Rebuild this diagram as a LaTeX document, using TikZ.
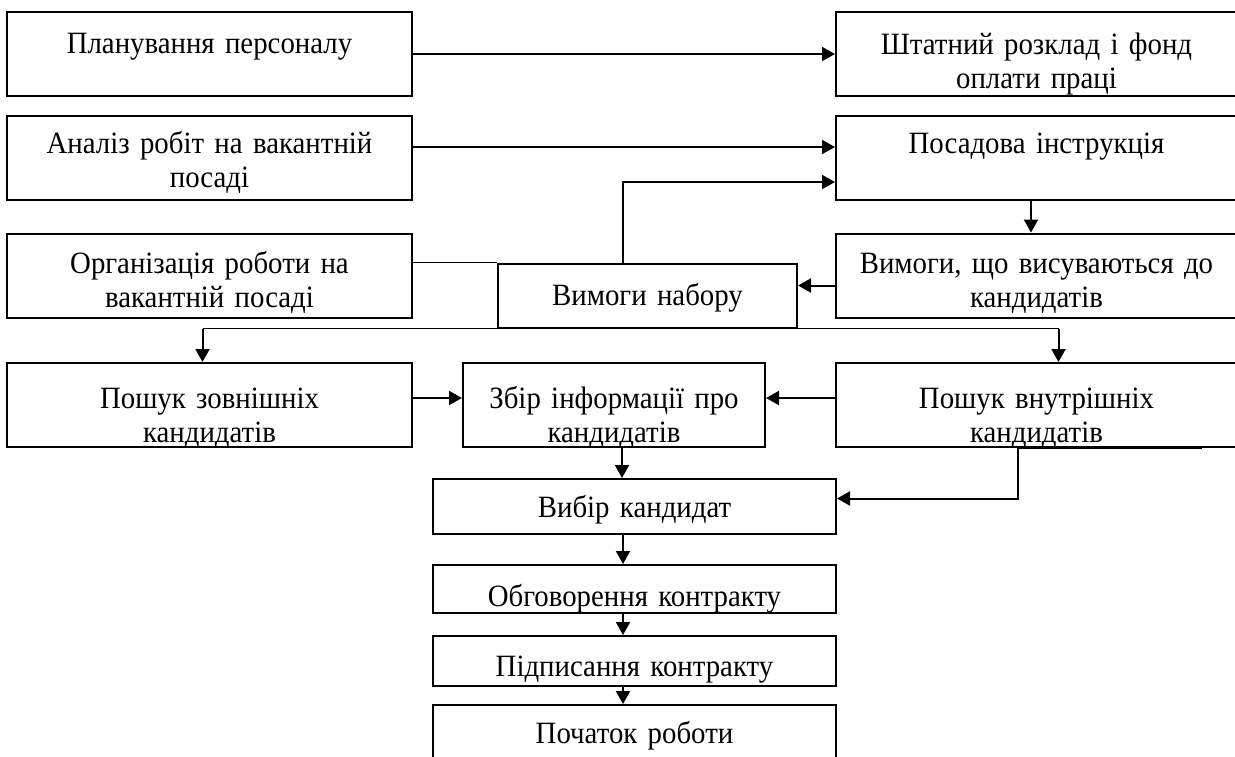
\documentclass[tikz,border=0pt]{standalone}
\usepackage{fontspec}
\setmainfont{Liberation Serif}[FakeStretch=0.93]
\usetikzlibrary{arrows.meta, positioning, calc}

\begin{document}
\begin{tikzpicture}[x=1pt, y=-1pt, ->, >={Triangle[length=13pt,width=14pt]}, line width=2pt,
  every node/.style = {shape=rectangle, draw, inner sep=0pt, align=center, font=\fontsize{31}{34}\selectfont},
  sidebox/.style = {minimum width=405, text width=390, minimum height=84},
  rightbox/.style = {minimum width=401, text width=390, minimum height=84},
  stagebox/.style = {minimum width=403, text width=390},
  lift/.style = {text height=0pt, text depth=#1},
  sink/.style = {text height=#1, text depth=0pt}]
  \useasboundingbox (0,0) rectangle (1235,756);
  \node[sidebox, lift=2pt] (plan) at (209.5,54) {Планування персоналу};
  \node[sidebox, lift=10pt] (analiz) at (209.5,158) {Аналіз робіт на вакантній\\посаді};
  \node[sidebox, lift=5pt] (org) at (209.5,275.5) {Організація роботи на\\вакантній посаді};
  \node[sidebox, sink=6pt] (zovn) at (209.5,405) {Пошук зовнішніх\\кандидатів};
  \node[rightbox, lift=0pt] (shtat) at (1036.5,54) {Штатний розклад і фонд\\оплати праці};
  \node[rightbox, lift=10pt] (instr) at (1036.5,158) {Посадова інструкція};
  \node[rightbox, lift=5pt] (vymogy) at (1036.5,275.5) {Вимоги, що висуваються до\\кандидатів};
  \node[rightbox, sink=6pt] (vnutr) at (1036.5,405) {Пошук внутрішніх\\кандидатів};
  \node[minimum width=299, text width=290, minimum height=64, sink=19pt] (nabir) at (647.5,295.5) {Вимоги набору};
  \node[minimum width=302, text width=290, minimum height=84, sink=6pt] (zbir) at (614,405) {Збір інформації про\\кандидатів};
  \node[stagebox, minimum height=55, sink=21pt] (vybir) at (634.5,506.5) {Вибір кандидат};
  \node[stagebox, minimum height=48, sink=34pt] (obh) at (634.5,589) {Обговорення контракту};
  \node[stagebox, minimum height=50, sink=30pt] (pidp) at (634.5,661) {Підписання контракту};
  \node[stagebox, minimum height=85, lift=9pt] (pochat) at (634.5,747.5) {Початок роботи};
  % connectors
  \draw (plan) -- (shtat);
  \draw ([yshift=11pt]analiz.east) -- ([yshift=11pt]instr.west);
  \draw ([xshift=-24.5pt]nabir.north) |- ([yshift=-24pt]instr.west);
  \draw ([xshift=-5.5pt]instr.south) -- ([xshift=-5.5pt]vymogy.north);
  \draw ([yshift=-10pt]vymogy.west) -- ([yshift=-10pt]vymogy.west -| nabir.east);
  \draw[-, line width=1.3pt] (org.east |- nabir.north) -- (nabir.north west);
  \draw[-, line width=1.3pt] ([xshift=-7pt]zovn.north |- nabir.south) -- ([xshift=22pt]vnutr.north |- nabir.south);
  \draw ([xshift=-7pt]zovn.north |- nabir.south) -- ([xshift=-7pt]zovn.north);
  \draw ([xshift=22pt]vnutr.north |- nabir.south) -- ([xshift=22pt]vnutr.north);
  \draw ([yshift=7pt]zovn.east) -- ([yshift=7pt]zbir.west);
  \draw ([yshift=7pt]vnutr.west) -- ([yshift=7pt]zbir.east);
  \draw ([xshift=8pt]zbir.south) -- ([xshift=8pt]zbir.south |- vybir.north);
  \draw[-] ([xshift=-18.5pt]vnutr.south) -- ([xshift=165pt]vnutr.south);
  \draw ([xshift=-18.5pt]vnutr.south) |- ([yshift=8pt]vybir.east);
  \draw ([xshift=-11.5pt]vybir.south) -- ([xshift=-11.5pt]obh.north);
  \draw ([xshift=-11.5pt]obh.south) -- ([xshift=-11.5pt]pidp.north);
  \draw ([xshift=-11.5pt]pidp.south) -- ([xshift=-11.5pt]pochat.north);
\end{tikzpicture}
\end{document}
